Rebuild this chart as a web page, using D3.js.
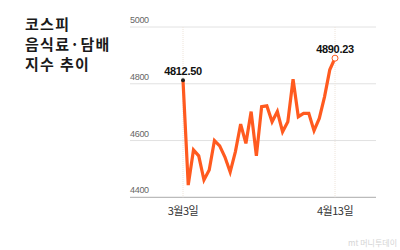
<!DOCTYPE html>
<html>
<head>
<meta charset="utf-8">
<script src="https://cdn.jsdelivr.net/npm/d3@7"></script>
<style>
  body { margin: 0; background: #fff; }
  svg { display: block; }
</style>
</head>
<body>
<div id="viz-container"></div>
<script>
let w = 400;
let h = 250;

// 거래일 (3/3 ~ 4/13)
let dates = ["3/3","3/4","3/5","3/6","3/9","3/10","3/11","3/12","3/13",
  "3/16","3/17","3/18","3/19","3/20","3/23","3/24","3/25","3/26","3/27",
  "3/30","3/31","4/1","4/2","4/3","4/6","4/7","4/8","4/9","4/10","4/13"];
let values = [4812.50, 4443, 4567, 4546, 4461, 4496, 4600, 4581, 4542,
  4489, 4561, 4658, 4590, 4702, 4546, 4719, 4722, 4666, 4702,
  4631, 4666, 4816, 4684, 4696, 4696, 4635, 4678, 4754, 4849, 4890.23];
let yTicks = [4400, 4600, 4800, 5000];
let xTickDates = ["3/3", "4/13"];
let xTickLabels = ["3월3일", "4월13일"];
let titleLines = ["코스피", "음식료·담배", "지수 추이"];

let orange = "#ff5a1f";
let kor = "'Noto Sans CJK KR', 'Noto Sans', sans-serif";
let num = "'Liberation Sans', Arial, sans-serif";

let viz = d3.select("#viz-container")
  .append("svg")
  .attr("width", w)
  .attr("height", h);

let xScale = d3.scalePoint().domain(dates).range([183, 335]);
let yScale = d3.scaleLinear().domain([4400, 5000]).range([197.3, 27]);

// title
viz.append("g").selectAll("text").data(titleLines).enter()
  .append("text")
  .attr("x", 25)
  .attr("y", (d, i) => 30 + i * 20)
  .attr("font-family", kor)
  .attr("font-weight", "bold")
  .attr("font-size", 15)
  .attr("letter-spacing", 1.3)
  .attr("fill", "#1a1a1a")
  .text(d => d);

// grid
let grid = viz.append("g");
grid.selectAll("line").data(yTicks).enter()
  .append("line")
  .attr("x1", 130).attr("x2", 376)
  .attr("y1", d => yScale(d)).attr("y2", d => yScale(d))
  .attr("stroke", d => d == 4400 ? "#aaa" : "#e2e2e2")
  .attr("stroke-width", 1);
grid.selectAll("text").data(yTicks).enter()
  .append("text")
  .attr("x", 130)
  .attr("y", d => yScale(d) - 4)
  .attr("font-family", num)
  .attr("font-size", 9)
  .attr("letter-spacing", -0.3)
  .attr("fill", "#666")
  .text(d => d);

// date guides
viz.append("g").selectAll("line").data(xTickDates).enter()
  .append("line")
  .attr("x1", d => xScale(d)).attr("x2", d => xScale(d))
  .attr("y1", yScale(5000)).attr("y2", yScale(4400))
  .attr("stroke", "#eee4da")
  .attr("stroke-dasharray", "1,1");

viz.append("g").selectAll("text").data(xTickDates).enter()
  .append("text")
  .attr("x", d => xScale(d))
  .attr("y", 215)
  .attr("text-anchor", "middle")
  .attr("font-family", kor)
  .attr("font-size", 11)
  .attr("letter-spacing", -0.5)
  .attr("fill", "#333")
  .text((d, i) => xTickLabels[i]);

// line
let line = d3.line()
  .x((d, i) => xScale(dates[i]))
  .y(d => yScale(d));
viz.append("path")
  .datum(values)
  .attr("d", line)
  .attr("fill", "none")
  .attr("stroke", orange)
  .attr("stroke-width", 3.2)
  .attr("stroke-linejoin", "miter");

// start / end markers
let first = 0, last = values.length - 1;
viz.append("circle")
  .attr("cx", xScale(dates[first])).attr("cy", yScale(values[first]))
  .attr("r", 2)
  .attr("fill", "#222");
viz.append("circle")
  .attr("cx", xScale(dates[last])).attr("cy", yScale(values[last]))
  .attr("r", 3)
  .attr("fill", "#fff")
  .attr("stroke", orange)
  .attr("stroke-width", 1);

viz.append("g").selectAll("text").data([first, last]).enter()
  .append("text")
  .attr("x", d => xScale(dates[d]))
  .attr("y", d => yScale(values[d]) - 5)
  .attr("text-anchor", "middle")
  .attr("font-family", num)
  .attr("font-weight", "bold")
  .attr("font-size", 11)
  .attr("letter-spacing", -0.3)
  .attr("fill", "#111")
  .text(d => values[d].toFixed(2));

// watermark
viz.append("text")
  .attr("x", 397).attr("y", 246)
  .attr("text-anchor", "end")
  .attr("font-family", kor)
  .attr("font-size", 8)
  .attr("fill", "#d4d4d4")
  .text("mt 머니투데이");
</script>
</body>
</html>
